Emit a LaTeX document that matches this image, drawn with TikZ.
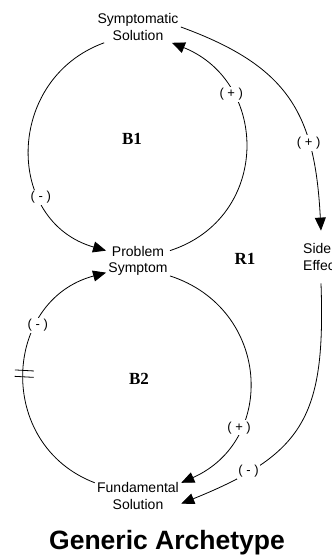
\documentclass[tikz,border=0pt]{standalone}
\usepackage{fontspec}
\setmainfont{Liberation Sans}
\newfontfamily\loopfont{Liberation Serif}
\usetikzlibrary{arrows.meta,decorations.markings}
\begin{document}
\begin{tikzpicture}[x=1pt,y=1pt,line width=.8pt,
    >={Triangle[length=13pt,width=11pt]},
    var/.style={align=center,inner sep=2pt,font=\fontsize{14}{16.5}\selectfont},
    sgn/.style={fill=white,inner sep=1.5pt,font=\fontsize{13}{13}\selectfont},
    loopname/.style={font=\loopfont\bfseries\fontsize{17}{17}\selectfont},
    delay/.style={postaction={decorate},decoration={markings,
        mark=at position .5 with {\draw[-,line width=.8pt] (-3.2pt,-9.5pt)--(-3.2pt,9.5pt) (3.2pt,-9.5pt)--(3.2pt,9.5pt);}}}]
    \useasboundingbox (0,0) rectangle (332,-555);
    \path
    (138,-27) node[var] (S) {Symptomatic\\Solution}
    (138,-261) node[var] (P) {Problem\\Symptom}
    (138,-496) node[var] (F) {Fundamental\\Solution}
    (321,-257) node[var,align=left,minimum height=52pt] (E) {Side\\Effect};
    \path
    (132,-138.5) node[loopname] (B1) {B1}
    (245,-258.5) node[loopname] (R1) {R1}
    (139,-378.5) node[loopname] (B2) {B2}
    (167,-549) node[anchor=base,font=\bfseries\fontsize{26.5}{26.5}\selectfont] (T) {Generic Archetype};
    % B1
    \draw[->] (S.205) to[out=200,in=164,looseness=1.3] node[sgn,pos=.69]{( - )} (P.162);
    \draw[->] (P.18) to[out=18,in=338,looseness=1.3] node[sgn,pos=.72]{( + )} (S.335);
    % R1
    \draw[->] (S.east) to[out=-20,in=93,looseness=1.2] node[sgn,pos=.7]{( + )} (E.north);
    \draw[->] (E.south) to[out=-88,in=22,looseness=1.3] node[sgn,pos=.78]{( - )} (F.350);
    % B2
    \draw[->] (P.335) to[out=-18,in=24,looseness=1.3] node[sgn,pos=.71]{( + )} (F.17);
    \draw[->,delay] (F.163) to[out=159,in=195,looseness=1.3] node[sgn,pos=.69]{( - )} (P.200);
\end{tikzpicture}
\end{document}
